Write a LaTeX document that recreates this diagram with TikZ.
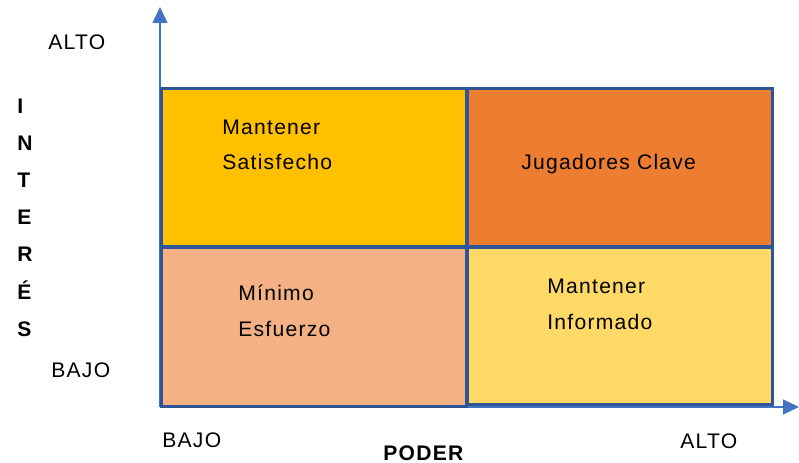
\documentclass[tikz,border=0pt]{standalone}
\usepackage{fontspec}
\setmainfont{Liberation Sans}[LetterSpace=6]
\usetikzlibrary{arrows.meta}

\definecolor{ejecol}{HTML}{4472C4}
\definecolor{bordecol}{HTML}{2F5597}
\definecolor{satcol}{HTML}{FFC000}
\definecolor{clavecol}{HTML}{ED7D31}
\definecolor{mincol}{HTML}{F4B183}
\definecolor{infcol}{HTML}{FFD966}

\tikzset{
  cuadro/.style={draw=bordecol, line width=1.7pt, rectangle, inner sep=0pt,
    minimum width=6.12cm, minimum height=3.18cm},
  txt/.style={inner sep=0pt, anchor=base west, font=\fontsize{12}{14}\selectfont},
  eje/.style={draw=ejecol, line width=0.85pt, -{Triangle[length=0.32cm,width=0.3cm]}},
}

\begin{document}
\begin{tikzpicture}[x=0.02cm, y=-0.02cm]
        \path[use as bounding box] (0,0) rectangle (799,463);

        \coordinate (O) at (160, 407);
        \coordinate (ytop) at (160, 7);
        \coordinate (xend) at (799, 407);

        \draw[eje] (O) -- (ytop);
        \draw[eje] (O) -- (xend);

        \node [cuadro,fill=satcol] (mantsat) at (314, 167.5) {};
        \node [cuadro,fill=clavecol] (jugclave) at (620, 167.5) {};
        \node [cuadro,fill=mincol] (minesf) at (314, 327) {};
        \node [cuadro,fill=infcol,minimum height=3.16cm] (mantinf) at (620, 326) {};

        \node [txt] (mantsat1) at (222, 134) {Mantener};
        \node [txt] (mantsat2) at (222, 169) {Satisfecho};
        \node [txt] (jug) at (521, 169) {Jugadores Clave};
        \node [txt] (minesf1) at (238, 300) {Mínimo};
        \node [txt] (minesf2) at (238, 336) {Esfuerzo};
        \node [txt] (mantinf1) at (547, 293) {Mantener};
        \node [txt] (mantinf2) at (547, 329) {Informado};

        % etiquetas de los ejes
        \node [txt] (yalto) at (48, 50) {ALTO};
        \node [txt] (ybajo) at (51, 377) {BAJO};
        \node [txt] (xbajo) at (162, 447) {BAJO};
        \node [txt] (xalto) at (680, 448) {ALTO};
        \node [txt,font=\fontsize{12}{14}\selectfont\bfseries] (poder) at (383, 460) {PODER};
        \foreach \l [count=\i] in {I,N,T,E,R,É,S}
          \node [txt,font=\fontsize{12}{14}\selectfont\bfseries] (int\i) at (17, 113+37.2*\i-37.2) {\l};
      \end{tikzpicture}
\end{document}
